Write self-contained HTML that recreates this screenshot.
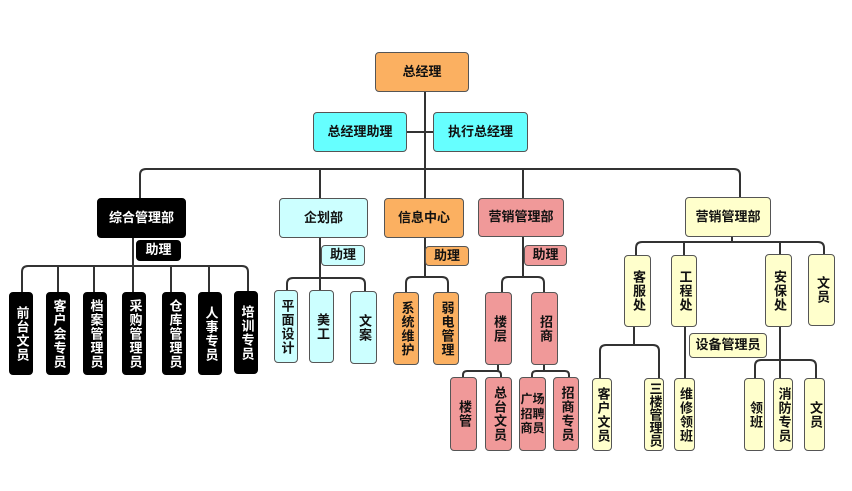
<!DOCTYPE html><html><head><meta charset="utf-8"><style>
body{margin:0;width:852px;height:491px;background:#fff;position:relative;overflow:hidden;font-family:"Liberation Sans","Noto Sans CJK SC",sans-serif;font-weight:bold;font-size:13px;color:#111}
.b{position:absolute;border:1px solid #555;border-radius:4px;box-sizing:border-box;display:flex;align-items:center;justify-content:center;text-align:center;line-height:1.15}
.v{writing-mode:vertical-rl;text-orientation:upright;letter-spacing:1px}
.k{background:#000;color:#fff;border-color:#000}
.o{background:#fbb061}.c{background:#66ffff}.lc{background:#ccffff}.p{background:#f09999}.y{background:#ffffcc}
svg{position:absolute;left:0;top:0}
</style></head><body>
<svg width="852" height="491" fill="none" stroke="#333" stroke-width="2">
<path d="M425 92V198"/><path d="M407 132H433"/>
<path d="M140 198V175q0-6 6-6H734q6 0 6 6V197"/><path d="M320 169V198M523 169V198"/>
<path d="M133 238V292"/><path d="M22 292V272q0-6 6-6H242q6 0 6 6V292"/><path d="M58 266V292M94 266V292M171 266V292M209 266V292"/>
<path d="M320 238V290"/><path d="M287 290V284q0-6 6-6H359q6 0 6 6V291"/>
<path d="M425 238V277"/><path d="M406 292V283q0-6 6-6H442q6 0 6 6V292"/>
<path d="M523 237V277"/><path d="M502 292V283q0-6 6-6H538q6 0 6 6V292"/>
<path d="M498 365V371M544 365V371"/><path d="M463 377V375q0-4 4-4H497q4 0 4 4V377"/><path d="M532 377V375q0-4 4-4H565q4 0 4 4V377"/>
<path d="M732 237V242"/><path d="M636 255V248q0-6 6-6H818q6 0 6 6V254"/><path d="M684 242V255M780 242V255"/>
<path d="M634 327V345"/><path d="M600 378V351q0-6 6-6H653q6 0 6 6V378"/>
<path d="M685 327V378"/><path d="M780 327V378"/><path d="M755 378V366q0-6 6-6H810q6 0 6 6V378"/>
</svg>
<div class="b o" style="left:375px;top:52px;width:94px;height:40px">总经理</div>
<div class="b c" style="left:313px;top:112px;width:94px;height:40px">总经理助理</div>
<div class="b c" style="left:433px;top:112px;width:95px;height:40px">执行总经理</div>
<div class="b k" style="left:97px;top:198px;width:89px;height:40px">综合管理部</div>
<div class="b lc" style="left:279px;top:198px;width:89px;height:40px">企划部</div>
<div class="b o" style="left:384px;top:198px;width:80px;height:40px">信息中心</div>
<div class="b p" style="left:478px;top:198px;width:86px;height:39px">营销管理部</div>
<div class="b y" style="left:685px;top:197px;width:86px;height:40px">营销管理部</div>
<div class="b k" style="left:136px;top:240px;width:45px;height:21px">助理</div>
<div class="b lc" style="left:321px;top:245px;width:44px;height:21px">助理</div>
<div class="b o" style="left:425px;top:246px;width:44px;height:20px">助理</div>
<div class="b p" style="left:524px;top:245px;width:43px;height:21px">助理</div>
<div class="b k v" style="left:9px;top:292px;width:24px;height:83px">前台文员</div>
<div class="b k v" style="left:46px;top:292px;width:24px;height:83px">客户会专员</div>
<div class="b k v" style="left:83px;top:292px;width:24px;height:83px">档案管理员</div>
<div class="b k v" style="left:122px;top:292px;width:24px;height:83px">采购管理员</div>
<div class="b k v" style="left:162px;top:292px;width:24px;height:83px">仓库管理员</div>
<div class="b k v" style="left:198px;top:292px;width:24px;height:83px">人事专员</div>
<div class="b k v" style="left:234px;top:291px;width:24px;height:83px">培训专员</div>
<div class="b lc v" style="left:274px;top:290px;width:24px;height:73px">平面设计</div>
<div class="b lc v" style="left:309px;top:290px;width:25px;height:73px">美工</div>
<div class="b lc v" style="left:350px;top:291px;width:27px;height:73px">文案</div>
<div class="b o v" style="left:393px;top:292px;width:26px;height:73px">系统维护</div>
<div class="b o v" style="left:433px;top:292px;width:26px;height:73px">弱电管理</div>
<div class="b p v" style="left:485px;top:292px;width:27px;height:73px">楼层</div>
<div class="b p v" style="left:531px;top:292px;width:27px;height:73px">招商</div>
<div class="b p v" style="left:450px;top:377px;width:27px;height:74px">楼管</div>
<div class="b p v" style="left:485px;top:377px;width:27px;height:74px">总台文员</div>
<div class="b p" style="left:519px;top:377px;width:27px;height:74px;font-size:12px;line-height:1.2">广场<br>招聘<br>商员</div>
<div class="b p v" style="left:553px;top:377px;width:26px;height:74px">招商专员</div>
<div class="b y v" style="left:624px;top:255px;width:27px;height:72px">客服处</div>
<div class="b y v" style="left:671px;top:255px;width:26px;height:72px">工程处</div>
<div class="b y v" style="left:765px;top:254px;width:27px;height:73px">安保处</div>
<div class="b y v" style="left:808px;top:254px;width:27px;height:72px">文员</div>
<div class="b y" style="left:689px;top:333px;width:78px;height:25px">设备管理员</div>
<div class="b y v" style="left:592px;top:378px;width:20px;height:73px">客户文员</div>
<div class="b y v" style="left:644px;top:378px;width:20px;height:73px;letter-spacing:0">三楼管理员</div>
<div class="b y v" style="left:674px;top:378px;width:21px;height:73px">维修领班</div>
<div class="b y v" style="left:744px;top:378px;width:21px;height:73px">领班</div>
<div class="b y v" style="left:773px;top:378px;width:20px;height:73px">消防专员</div>
<div class="b y v" style="left:804px;top:378px;width:21px;height:73px">文员</div>
</body></html>
